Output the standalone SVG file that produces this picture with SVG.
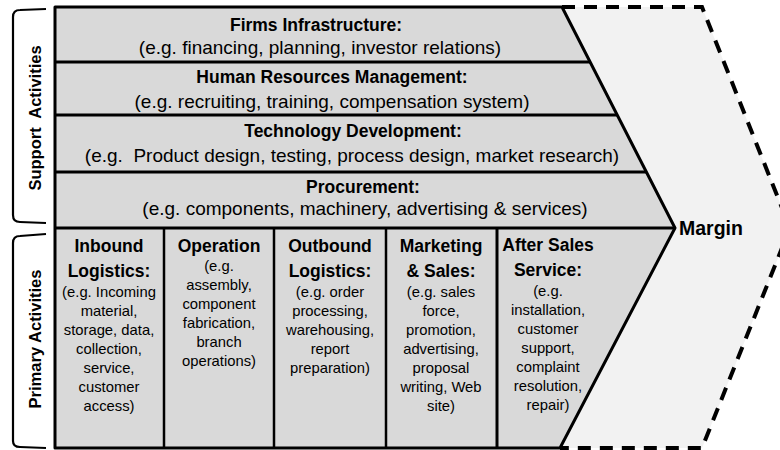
<svg xmlns="http://www.w3.org/2000/svg" width="780" height="450" viewBox="0 0 780 450">
  <style>
    text { font-family: "Liberation Sans", Arial, sans-serif; fill: #000; text-anchor: middle; }
    .h { font-weight: bold; font-size: 17.5px; }
    .r { font-size: 19px; }
    .s { font-size: 14.8px; }
    .side { font-weight: bold; font-size: 16.5px; }
    .margin { font-weight: bold; font-size: 19.5px; text-anchor: start; }
    .div { stroke: #000; stroke-width: 3; fill: none; }
    .col { stroke: #000; stroke-width: 2.5; fill: none; }
    .bracket { stroke: #000; stroke-width: 2.2; fill: none; stroke-linejoin: round; }
  </style>

  <!-- margin chevron (dashed outline) -->
  <g id="margin-shape">
    <path d="M562,7 L702,7 L790,228 L702,448 L560,448" fill="#f2f2f2" stroke="#000" stroke-width="4" stroke-dasharray="13 9"/>
  </g>

  <!-- activity block -->
  <g id="activity-block">
    <path d="M55,7 L562,7 L675,228 L560,448 L55,448 Z" fill="#d9d9d9" stroke="#000" stroke-width="3" stroke-linejoin="round"/>
  </g>

  <!-- row and column dividers -->
  <g id="connectors">
    <line class="div" x1="55" y1="62" x2="590" y2="62"/>
    <line class="div" x1="55" y1="115" x2="617" y2="115"/>
    <line class="div" x1="55" y1="172" x2="646" y2="172"/>
    <line class="div" x1="55" y1="228" x2="675" y2="228"/>
    <line class="col" x1="164" y1="228" x2="164" y2="448"/>
    <line class="col" x1="274" y1="228" x2="274" y2="448"/>
    <line class="col" x1="386" y1="228" x2="386" y2="448"/>
    <line class="div" x1="497" y1="227" x2="497" y2="448"/>
  </g>

  <!-- side brackets -->
  <g id="support-label">
    <path class="bracket" d="M46,9 L20,10 Q13,10 13,17 L13,215 Q13,222 20,222 L46,223"/>
    <text class="side" transform="translate(41,118) rotate(-90)" xml:space="preserve">Support  Activities</text>
  </g>
  <g id="primary-label">
    <path class="bracket" d="M46,234 L20,236 Q13,236 13,243 L13,441 Q13,447 20,447 L46,448"/>
    <text class="side" transform="translate(41,339) rotate(-90)">Primary Activities</text>
  </g>

  <!-- support activities -->
  <g id="firm-infrastructure">
    <text class="h" x="316" y="31">Firms Infrastructure:</text>
    <text class="r" x="320" y="54">(e.g. financing, planning, investor relations)</text>
  </g>
  <g id="hr-management">
    <text class="h" x="332" y="83">Human Resources Management:</text>
    <text class="r" x="332" y="108">(e.g. recruiting, training, compensation system)</text>
  </g>
  <g id="technology-development">
    <text class="h" x="353" y="137">Technology Development:</text>
    <text class="r" x="352" y="162" xml:space="preserve">(e.g.  Product design, testing, process design, market research)</text>
  </g>
  <g id="procurement">
    <text class="h" x="363" y="193">Procurement:</text>
    <text class="r" x="365" y="215">(e.g. components, machinery, advertising &amp; services)</text>
  </g>

  <!-- primary activities -->
  <g id="inbound-logistics">
    <text class="h" x="109" y="252">Inbound</text>
    <text class="h" x="109" y="277">Logistics:</text>
    <text class="s" x="109" y="297">(e.g. Incoming</text>
    <text class="s" x="109" y="316">material,</text>
    <text class="s" x="109" y="335">storage, data,</text>
    <text class="s" x="109" y="354">collection,</text>
    <text class="s" x="109" y="373">service,</text>
    <text class="s" x="109" y="392">customer</text>
    <text class="s" x="109" y="411">access)</text>
  </g>
  <g id="operation">
    <text class="h" x="219" y="252">Operation</text>
    <text class="s" x="219" y="271">(e.g.</text>
    <text class="s" x="219" y="290">assembly,</text>
    <text class="s" x="219" y="309">component</text>
    <text class="s" x="219" y="328">fabrication,</text>
    <text class="s" x="219" y="347">branch</text>
    <text class="s" x="219" y="366">operations)</text>
  </g>
  <g id="outbound-logistics">
    <text class="h" x="330" y="252">Outbound</text>
    <text class="h" x="330" y="277">Logistics:</text>
    <text class="s" x="330" y="297">(e.g. order</text>
    <text class="s" x="330" y="316">processing,</text>
    <text class="s" x="330" y="335">warehousing,</text>
    <text class="s" x="330" y="354">report</text>
    <text class="s" x="330" y="373">preparation)</text>
  </g>
  <g id="marketing-sales">
    <text class="h" x="441" y="252">Marketing</text>
    <text class="h" x="441" y="277">&amp; Sales:</text>
    <text class="s" x="441" y="297">(e.g. sales</text>
    <text class="s" x="441" y="316">force,</text>
    <text class="s" x="441" y="335">promotion,</text>
    <text class="s" x="441" y="354">advertising,</text>
    <text class="s" x="441" y="373">proposal</text>
    <text class="s" x="441" y="392">writing, Web</text>
    <text class="s" x="441" y="411">site)</text>
  </g>
  <g id="after-sales-service">
    <text class="h" x="548" y="251">After Sales</text>
    <text class="h" x="548" y="276">Service:</text>
    <text class="s" x="548" y="296">(e.g.</text>
    <text class="s" x="548" y="315">installation,</text>
    <text class="s" x="548" y="334">customer</text>
    <text class="s" x="548" y="353">support,</text>
    <text class="s" x="548" y="372">complaint</text>
    <text class="s" x="548" y="391">resolution,</text>
    <text class="s" x="548" y="410">repair)</text>
  </g>

  <g id="margin">
    <text class="margin" x="679" y="235">Margin</text>
  </g>
</svg>
